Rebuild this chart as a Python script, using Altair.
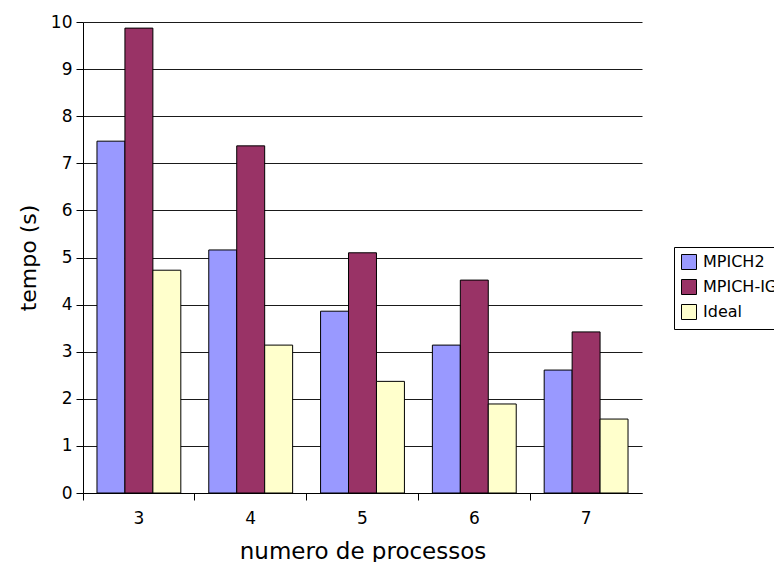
import altair as alt
import pandas as pd

# Number of processes on the x axis
processos = [3, 4, 5, 6, 7]

# Execution time (seconds) for each implementation
mpich2 = [7.47, 5.16, 3.86, 3.14, 2.61]
mpich_ig = [9.87, 7.37, 5.10, 4.52, 3.42]
ideal = [4.73, 3.14, 2.37, 1.89, 1.57]

series = ["MPICH2", "MPICH-IG", "Ideal"]
colors = ["#9999FF", "#993366", "#FFFFCC"]
y_ticks = [0, 1, 2, 3, 4, 5, 6, 7, 8, 9, 10]

rows = []
for name, vals in zip(series, [mpich2, mpich_ig, ideal]):
    for p, v in zip(processos, vals):
        rows.append({"processos": p, "serie": name, "tempo": v})
df = pd.DataFrame(rows)

FONT = "DejaVu Sans"

chart = (
    alt.Chart(df)
    .mark_bar(stroke="black", strokeWidth=1)
    .encode(
        x=alt.X(
            "processos:O",
            title="numero de processos",
            scale=alt.Scale(paddingInner=0, paddingOuter=0),
            axis=alt.Axis(
                labelAngle=0,
                bandPosition=0,
                grid=False,
                tickSize=7,
                labelPadding=10,
                titlePadding=14,
                titleFontSize=23,
            ),
        ),
        xOffset=alt.XOffset(
            "serie:N",
            sort=series,
            scale=alt.Scale(paddingInner=0, paddingOuter=0.5),
        ),
        y=alt.Y(
            "tempo:Q",
            title="tempo (s)",
            scale=alt.Scale(domain=[0, 10], nice=False),
            axis=alt.Axis(
                values=y_ticks,
                grid=True,
                gridColor="#1a1a1a",
                gridWidth=1,
                gridOpacity=1,
                tickSize=7,
                labelPadding=4,
                titlePadding=10,
                titleFontSize=22,
            ),
        ),
        color=alt.Color(
            "serie:N",
            sort=series,
            scale=alt.Scale(domain=series, range=colors),
            legend=alt.Legend(
                title=None,
                orient="none",
                legendX=591,
                legendY=225,
                strokeColor="black",
                fillColor="white",
                padding=7,
                symbolType="square",
                symbolSize=225,
                symbolStrokeColor="black",
                symbolStrokeWidth=1,
                symbolOpacity=1,
                labelFont=FONT,
                labelFontSize=16,
                labelColor="black",
                labelOffset=6,
                rowPadding=5,
                labelLimit=300,
            ),
        ),
    )
    .properties(
        width=559,
        height=471,
        autosize=alt.AutoSizeParams(type="none"),
        padding={"left": 83, "top": 22, "right": 132, "bottom": 69},
    )
    .configure_view(stroke=None)
    .configure_axis(
        domainColor="black",
        domainWidth=1,
        tickColor="black",
        tickWidth=1,
        labelFont=FONT,
        labelFontSize=17,
        labelColor="black",
        titleFont=FONT,
        titleFontWeight="normal",
        titleColor="black",
    )
)

chart.save("out.html", embed_options={"renderer": "svg", "actions": False})
